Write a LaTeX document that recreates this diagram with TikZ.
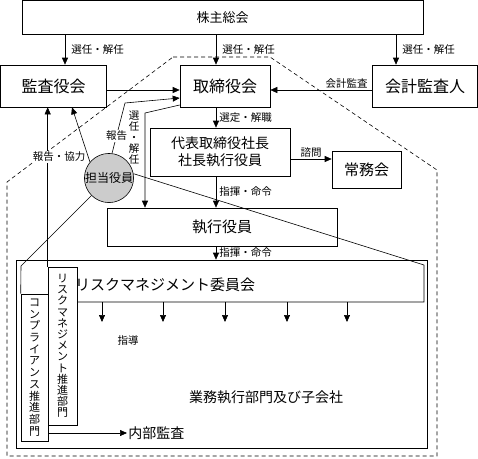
\documentclass[tikz,border=0pt]{standalone}
\usepackage{fontspec}
\setmainfont{Noto Sans CJK JP}
\usetikzlibrary{arrows.meta}

\begin{document}
\begin{tikzpicture}[x=1pt,y=-1pt,line width=0.6pt,
  box/.style={draw,inner sep=0pt,font=\fontsize{16}{18}\selectfont},
  lbl/.style={inner sep=1pt,font=\fontsize{10.5}{11}\selectfont},
  vtext/.style={draw,inner sep=0pt,align=center,font=\fontsize{11}{11.2}\selectfont},
  arr/.style={-{Triangle[length=7pt,width=6pt]}},
  zone/.style={dash pattern=on 4pt off 3pt,line width=0.6pt}]
\useasboundingbox (0,0) rectangle (478,458);

% group boundary
\draw[zone] (173,57) -- (270,57) -- (437,170) -- (437,456) -- (7,456) -- (7,182) -- cycle;

\node[box,minimum width=401,minimum height=34,font=\fontsize{13}{15}\selectfont] (soukai) at (222.5,17.5) {株主総会};
\node[box,minimum width=106,minimum height=42] (kansa) at (53.5,86) {監査役会};
\node[box,minimum width=90,minimum height=42] (torishimari) at (225,86) {取締役会};
\node[box,minimum width=105,minimum height=42] (kaikei) at (425,86) {会計監査人};
\node[box,minimum width=140,minimum height=48,align=center,font=\fontsize{14}{17}\selectfont] (daihyo) at (220,152) {代表取締役社長\\社長執行役員};
\node[box,minimum width=69,minimum height=37,font=\fontsize{15}{17}\selectfont] (jomu) at (366.5,169.5) {常務会};
\node[box,minimum width=230,minimum height=38,font=\fontsize{15}{17}\selectfont] (shikko) at (222,227) {執行役員};
\node[draw,circle,fill=gray!40,minimum size=48,inner sep=0pt,font=\fontsize{12}{14}\selectfont] (tanto) at (109,178) {担当役員};

\node[draw,minimum width=411,minimum height=188] (gyomu) at (221.5,354) {};
\node[font=\fontsize{14}{16}\selectfont] (gyomuname) at (266,397) {業務執行部門及び子会社};
\node[vtext,minimum width=29,minimum height=158] (riskbu) at (62.5,346) {リ\\ス\\ク\\マ\\ネ\\ジ\\メ\\ン\\ト\\推\\進\\部\\門};
\node[vtext,minimum width=27,minimum height=147,font=\fontsize{11}{11.7}\selectfont] (comp) at (34.5,367.5) {コ\\ン\\プ\\ラ\\イ\\ア\\ン\\ス\\推\\進\\部\\門};
\node[font=\fontsize{15}{17}\selectfont] (iinkai) at (165,285) {リスクマネジメント委員会};
\node[anchor=west,inner sep=1pt,font=\fontsize{14}{16}\selectfont] (naibu) at (127,433) {内部監査};
\coordinate (cne) at (424,265);
\coordinate (cse) at (424,302);
\coordinate (cnw) at (21,266);

% committee and the lines from the officer
\draw (tanto.10) -- (cne) -- (cse) -- (riskbu.east |- cse);
\draw (tanto) -- (cnw) -- (comp.north west);
\foreach \x in {102,163,225,287,347}
  \draw[arr] (cse -| \x,0) -- ++(0,20);
\node[lbl] (shido) at (128,340) {指導};
\draw[arr] (comp.east |- naibu) -- (naibu.west);

\foreach \t/\x in {kansa/65,torishimari/216,kaikei/396}
  \draw[arr] (soukai.south -| \x,0) -- (\t.north -| \x,0) node[lbl,midway,right,xshift=5]{選任・解任};
\draw[arr] ([yshift=-4]kansa.east) -- ([yshift=-4]torishimari.west);
\draw[arr] ([yshift=-4]kaikei.west) -- ([yshift=-4]torishimari.east) node[lbl,pos=0.25,above]{会計監査};
\draw[arr] (torishimari.south -| 216,0) -- (daihyo.north -| 216,0) node[lbl,midway,right,xshift=2]{選定・解職};
\draw[arr] ([yshift=-7]daihyo.east) -- ([yshift=-7]daihyo.east -| jomu.west) node[lbl,midway,above]{諮問};
\draw[arr] (daihyo.south -| 216,0) -- (shikko.north -| 216,0) node[lbl,midway,right,xshift=2]{指揮・命令};
\draw[arr] (shikko.south -| 216,0) -- (gyomu.north -| 216,0) node[lbl,midway,right,xshift=2]{指揮・命令};

\draw[arr] ([yshift=-19]torishimari.west) -- (145,113) -- (shikko.north -| 145,0);
\node[lbl,align=center,font=\fontsize{10.5}{11}\selectfont] (sennin) at (134,138) {選\\任\\・\\解\\任};
\draw[arr] (tanto.83) -- node[lbl,fill=white,pos=0.35]{報告} (125,103) -- ([yshift=-12]torishimari.west);
\draw[arr] (tanto.140) -- (kansa.south -| 72,0);
\draw[arr] (riskbu.north west) -- (kansa.south -| riskbu.north west);
\node[lbl,fill=white] (kyoryoku) at (59,157) {報告・協力};
\end{tikzpicture}
\end{document}
